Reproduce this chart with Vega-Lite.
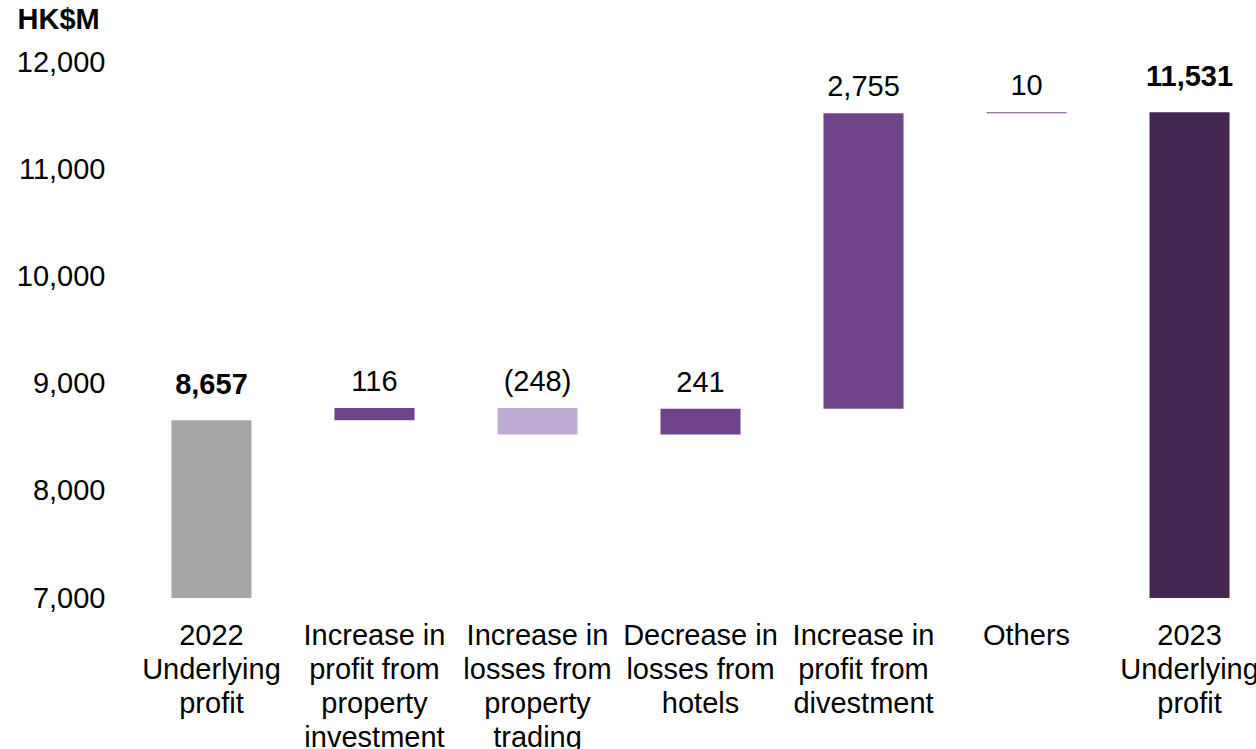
{
  "$schema": "https://vega.github.io/schema/vega-lite/v6.json",
  "width": 1107,
  "height": 536,
  "autosize": {"type": "none"},
  "padding": {"left": 147, "top": 62, "right": 2, "bottom": 151},
  "background": "white",
  "config": {
    "view": {"stroke": null},
    "font": "Liberation Sans",
    "text": {"font": "Liberation Sans"}
  },
  "data": {
    "values": [
      {"category": "2022\nUnderlying\nprofit", "start": 0, "end": 8657, "label": "8,657", "kind": "total", "tone": "2022"},
      {"category": "Increase in\nprofit from\nproperty\ninvestment", "start": 8657, "end": 8773, "label": "116", "kind": "change", "tone": "increase"},
      {"category": "Increase in\nlosses from\nproperty\ntrading", "start": 8773, "end": 8525, "label": "(248)", "kind": "change", "tone": "decrease"},
      {"category": "Decrease in\nlosses from\nhotels", "start": 8525, "end": 8766, "label": "241", "kind": "change", "tone": "increase"},
      {"category": "Increase in\nprofit from\ndivestment", "start": 8766, "end": 11521, "label": "2,755", "kind": "change", "tone": "increase"},
      {"category": "Others", "start": 11521, "end": 11531, "label": "10", "kind": "change", "tone": "increase"},
      {"category": "2023\nUnderlying\nprofit", "start": 0, "end": 11531, "label": "11,531", "kind": "total", "tone": "2023"}
    ]
  },
  "transform": [{"calculate": "max(datum.start, datum.end)", "as": "top"}],
  "encoding": {
    "x": {
      "field": "category",
      "type": "nominal",
      "sort": null,
      "scale": {"paddingInner": 0.509, "paddingOuter": 0.15},
      "axis": {
        "title": null,
        "domain": false,
        "ticks": false,
        "labelAngle": 0,
        "labelFontSize": 29,
        "labelColor": "#000000",
        "labelLineHeight": 34,
        "labelPadding": 23,
        "labelOverlap": false,
        "labelLimit": 300,
        "labelExpr": "split(datum.label, '\\n')"
      }
    }
  },
  "layer": [
    {
      "mark": {"type": "bar", "clip": true},
      "encoding": {
        "y": {
          "field": "start",
          "type": "quantitative",
          "scale": {"domain": [7000, 12000], "zero": false, "nice": false},
          "axis": {
            "title": "HK$M",
            "titleAngle": 0,
            "titleX": -130,
            "titleY": -34,
            "titleAlign": "left",
            "titleBaseline": "alphabetic",
            "titleFontSize": 29,
            "titleFontWeight": "bold",
            "titleColor": "#000000",
            "values": [7000, 8000, 9000, 10000, 11000, 12000],
            "format": ",.0f",
            "domain": false,
            "ticks": false,
            "tickSize": 0,
            "grid": false,
            "labelFontSize": 29,
            "labelColor": "#000000",
            "labelPadding": 42
          }
        },
        "y2": {"field": "end"},
        "color": {
          "field": "tone",
          "type": "nominal",
          "scale": {
            "domain": ["2022", "increase", "decrease", "2023"],
            "range": ["#A6A6A6", "#6F448B", "#BEAAD3", "#432751"]
          },
          "legend": null
        }
      }
    },
    {
      "transform": [{"filter": "datum.kind === 'change'"}],
      "mark": {"type": "text", "fontSize": 29, "color": "#000000", "baseline": "alphabetic", "dy": -17},
      "encoding": {
        "y": {"field": "top", "type": "quantitative"},
        "text": {"field": "label"}
      }
    },
    {
      "transform": [{"filter": "datum.kind === 'total'"}],
      "mark": {"type": "text", "fontSize": 29, "fontWeight": "bold", "color": "#000000", "baseline": "alphabetic", "dy": -26},
      "encoding": {
        "y": {"field": "top", "type": "quantitative"},
        "text": {"field": "label"}
      }
    }
  ]
}
